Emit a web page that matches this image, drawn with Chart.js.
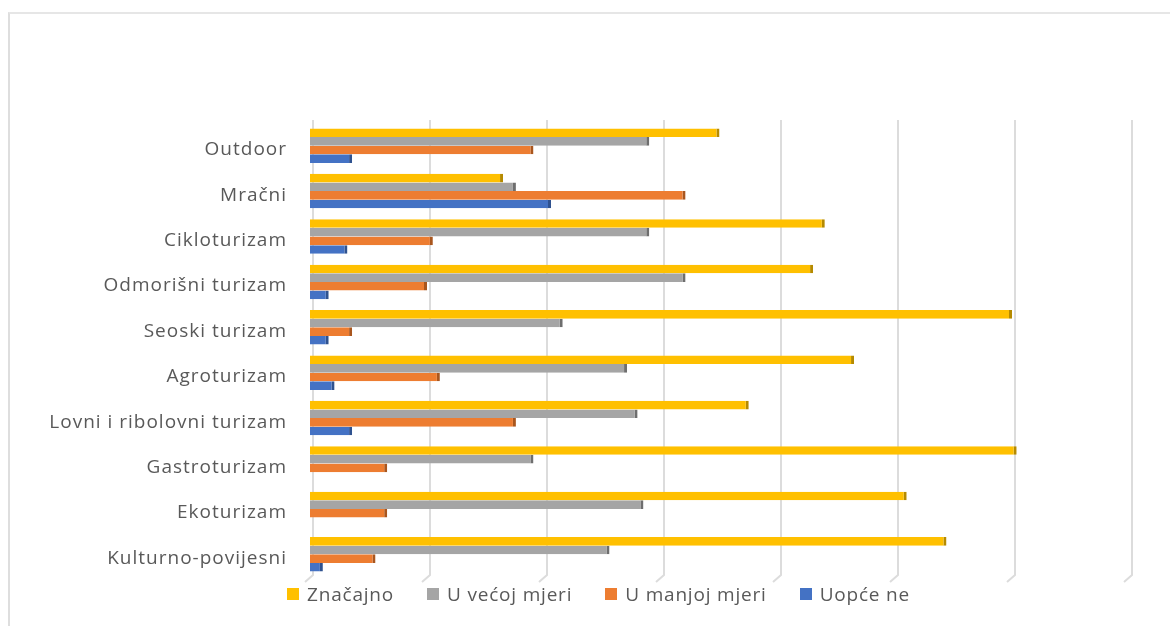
<!DOCTYPE html>
<html>
<head>
<meta charset="utf-8">
<script src="https://cdn.jsdelivr.net/npm/chart.js@4"></script>
<style>
  html, body { margin: 0; padding: 0; background: #fff; }
  #wrap { position: relative; width: 1170px; height: 626px; overflow: hidden; font-family: "Open Sans", sans-serif; }
  #frame { position: absolute; left: 8px; top: 12px; width: 1200px; height: 700px; border-left: 2px solid #dedede; border-top: 2px solid #e6e6e6; }
  #chart { position: absolute; left: 0; top: 0; }
  #legend { position: absolute; left: 287px; top: 581px; display: flex; align-items: center; font-size: 19px; letter-spacing: 0.8px; color: #595959; white-space: nowrap; }
  #legend .item { display: flex; align-items: center; margin-right: 33px; }
  #legend .box { width: 12px; height: 12px; margin-right: 8px; }
</style>
</head>
<body>
<div id="wrap">
  <div id="frame"></div>
  <canvas id="chart" width="1170" height="626"></canvas>
  <div id="legend"></div>
</div>
<script>
  "use strict";

  const categories = ["Outdoor", "Mračni", "Cikloturizam", "Odmorišni turizam", "Seoski turizam", "Agroturizam", "Lovni i ribolovni turizam", "Gastroturizam", "Ekoturizam", "Kulturno-povijesni"];
  const seriesNames = ["Značajno", "U većoj mjeri", "U manjoj mjeri", "Uopće ne"];
  const znacajno = [35, 16.5, 44, 43, 60, 46.5, 37.5, 60.4, 51, 54.4];
  const uVecojMjeri = [29, 17.6, 29, 32.1, 21.6, 27.1, 28, 19.1, 28.5, 25.6];
  const uManjojMjeri = [19.1, 32.1, 10.5, 10, 3.6, 11.1, 17.6, 6.6, 6.6, 5.6];
  const uopceNe = [3.6, 20.6, 3.2, 1.6, 1.6, 2.1, 3.6, 0, 0, 1.1];
  const xTicks = [0, 10, 20, 30, 40, 50, 60, 70];

  const fills = ["#FFC000", "#A5A5A5", "#ED7D31", "#4472C4"];
  const edges = ["#B58A00", "#6E6E6E", "#A9561E", "#2F528F"];
  const values = [znacajno, uVecojMjeri, uManjojMjeri, uopceNe];

  // slanted 3D-style gridlines drawn from the x scale
  const gridPlugin = {
    id: "slantGrid",
    beforeDraw(chart) {
      chart.ctx.letterSpacing = "1px";
    },
    beforeDatasetsDraw(chart) {
      const { ctx, chartArea, scales } = chart;
      ctx.save();
      ctx.strokeStyle = "#dcdcdc";
      ctx.lineWidth = 2;
      xTicks.forEach(value => {
        const x = scales.x.getPixelForValue(value) + 3;
        ctx.beginPath();
        ctx.moveTo(x, chartArea.top - 3);
        ctx.lineTo(x, chartArea.bottom - 2);
        ctx.lineTo(x - 8, chartArea.bottom + 5);
        ctx.stroke();
      });
      ctx.restore();
    }
  };

  new Chart(document.getElementById("chart"), {
    type: "bar",
    data: {
      labels: categories,
      datasets: seriesNames.map((name, index) => ({
        label: name,
        data: values[index],
        backgroundColor: fills[index],
        borderColor: edges[index],
        borderWidth: { top: 0, bottom: 0, left: 0, right: 3 },
        borderSkipped: false,
        categoryPercentage: 0.76,
        barPercentage: 1
      }))
    },
    options: {
      indexAxis: "y",
      responsive: false,
      animation: false,
      layout: { padding: { top: 123, right: 41, bottom: 49, left: 0 } },
      plugins: {
        tooltip: { enabled: false },
        legend: { display: false }
      },
      scales: {
        x: {
          min: 0,
          max: 70,
          ticks: { display: false, stepSize: 10 },
          grid: { display: false, drawTicks: false },
          border: { display: false }
        },
        y: {
          afterFit: scale => { scale.width = 310; },
          ticks: {
            color: "#595959",
            padding: 23,
            labelOffset: 4,
            font: { family: "'Open Sans', sans-serif", size: 19 }
          },
          grid: { display: false, drawTicks: false },
          border: { display: false }
        }
      }
    },
    plugins: [gridPlugin]
  });

  document.getElementById("legend").innerHTML = seriesNames.map((name, index) =>
    `<div class="item"><div class="box" style="background:${fills[index]};"></div><span>${name}</span></div>`
  ).join("");
</script>
</body>
</html>
